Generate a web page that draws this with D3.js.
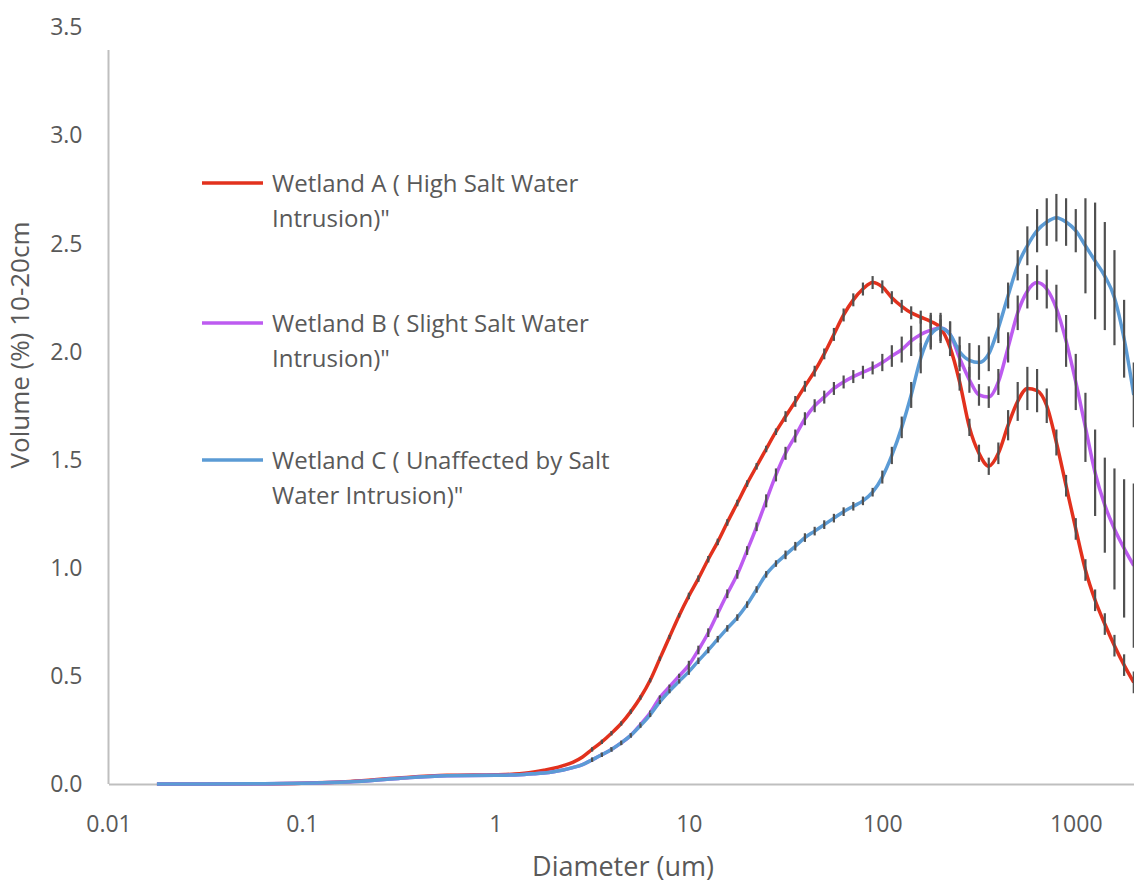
<!DOCTYPE html>
<html lang="en">
<head>
  <meta charset="UTF-8">
  <title>Particle size distribution</title>
  <script src="https://cdn.jsdelivr.net/npm/d3@7/dist/d3.min.js"></script>
  <style>
    body { margin: 0; background: #fff; }
    svg { display: block; font-family: "Open Sans", sans-serif; }
  </style>
</head>
<body>
<div id="chart"></div>
<script>
  // size classes (um)
  const diameters = [0.0178, 0.0316, 0.0562, 0.1, 0.178, 0.316, 0.562,
    1.0, 1.12, 1.26, 1.41, 1.58, 1.78, 2.0, 2.24, 2.51, 2.82, 3.16, 3.55, 3.98, 4.47, 5.01, 5.62, 6.31, 7.08, 7.94, 8.91,
    10, 11.2, 12.6, 14.1, 15.8, 17.8, 20, 22.4, 25.1, 28.2, 31.6, 35.5, 39.8, 44.7, 50.1, 56.2, 63.1, 70.8, 79.4, 89.1,
    100, 112, 126, 141, 158, 178, 200, 224, 251, 282, 316, 355, 398, 447, 501, 562, 631, 708, 794, 891,
    1000, 1122, 1259, 1413, 1585, 1778, 1995];

  const wetlandA = [0, 0, 0.001, 0.004, 0.012, 0.028, 0.040,
    0.043, 0.044, 0.046, 0.05, 0.056, 0.064, 0.073, 0.085, 0.10, 0.125, 0.16, 0.195, 0.235, 0.28, 0.335, 0.40, 0.48, 0.58, 0.68, 0.78,
    0.87, 0.95, 1.04, 1.12, 1.21, 1.30, 1.39, 1.47, 1.55, 1.63, 1.70, 1.77, 1.84, 1.91, 1.99, 2.08, 2.17, 2.24, 2.29, 2.32,
    2.30, 2.25, 2.21, 2.18, 2.16, 2.14, 2.11, 2.02, 1.86, 1.65, 1.53, 1.47, 1.53, 1.66, 1.77, 1.83, 1.82, 1.75, 1.58, 1.38,
    1.18, 0.99, 0.85, 0.74, 0.64, 0.55, 0.47];
  const wetlandB = [0, 0, 0.001, 0.003, 0.010, 0.026, 0.038,
    0.041, 0.041, 0.042, 0.044, 0.047, 0.051, 0.057, 0.065, 0.076, 0.09, 0.112, 0.135, 0.16, 0.19, 0.225, 0.275, 0.33, 0.40, 0.45, 0.50,
    0.55, 0.62, 0.70, 0.79, 0.88, 0.97, 1.08, 1.19, 1.31, 1.43, 1.53, 1.61, 1.69, 1.75, 1.79, 1.83, 1.86, 1.885, 1.905, 1.925,
    1.95, 1.98, 2.01, 2.05, 2.08, 2.10, 2.11, 2.08, 1.97, 1.87, 1.80, 1.79, 1.86, 2.02, 2.18, 2.28, 2.32, 2.29, 2.20, 2.05,
    1.86, 1.65, 1.44, 1.29, 1.18, 1.09, 1.01];
  const wetlandC = [0, 0, 0.001, 0.003, 0.010, 0.026, 0.038,
    0.041, 0.041, 0.042, 0.044, 0.047, 0.051, 0.057, 0.065, 0.076, 0.09, 0.112, 0.135, 0.16, 0.19, 0.225, 0.27, 0.32, 0.38, 0.43, 0.475,
    0.52, 0.57, 0.62, 0.67, 0.72, 0.77, 0.83, 0.90, 0.97, 1.02, 1.06, 1.10, 1.14, 1.17, 1.20, 1.23, 1.26, 1.285, 1.31, 1.35,
    1.42, 1.52, 1.65, 1.80, 1.97, 2.08, 2.11, 2.08, 2.00, 1.96, 1.95, 1.99, 2.11, 2.26, 2.40, 2.49, 2.56, 2.60, 2.62, 2.60,
    2.56, 2.49, 2.42, 2.35, 2.25, 2.06, 1.80];

  // +/- error
  const errA = [0, 0, 0, 0, 0, 0, 0,
    0, 0, 0, 0, 0, 0, 0, 0, 0, 0, 0.01, 0.01, 0.01, 0.01, 0.01, 0.01, 0.01, 0.01, 0.01, 0.01,
    0.015, 0.015, 0.015, 0.015, 0.015, 0.015, 0.015, 0.015, 0.015, 0.015, 0.025, 0.025, 0.025, 0.025, 0.025, 0.03, 0.03, 0.03, 0.03, 0.03,
    0.03, 0.03, 0.03, 0.03, 0.03, 0.03, 0.04, 0.04, 0.04, 0.04, 0.04, 0.04, 0.05, 0.07, 0.09, 0.10, 0.10, 0.08, 0.06, 0.05,
    0.05, 0.05, 0.05, 0.05, 0.05, 0.05, 0.05];
  const errB = [0, 0, 0, 0, 0, 0, 0,
    0, 0, 0, 0, 0, 0, 0, 0, 0, 0, 0.01, 0.01, 0.01, 0.01, 0.01, 0.01, 0.01, 0.01, 0.01, 0.01,
    0.02, 0.02, 0.02, 0.02, 0.02, 0.02, 0.02, 0.02, 0.03, 0.03, 0.03, 0.03, 0.03, 0.03, 0.03, 0.03, 0.03, 0.03, 0.03, 0.03,
    0.04, 0.05, 0.06, 0.07, 0.08, 0.08, 0.07, 0.06, 0.06, 0.06, 0.05, 0.05, 0.06, 0.07, 0.08, 0.08, 0.08, 0.09, 0.11, 0.12,
    0.13, 0.16, 0.20, 0.22, 0.28, 0.32, 0.38];
  const errC = [0, 0, 0, 0, 0, 0, 0,
    0, 0, 0, 0, 0, 0, 0, 0, 0, 0, 0.01, 0.01, 0.01, 0.01, 0.01, 0.01, 0.01, 0.01, 0.01, 0.01,
    0.015, 0.015, 0.015, 0.015, 0.015, 0.015, 0.015, 0.015, 0.015, 0.015, 0.02, 0.02, 0.02, 0.02, 0.02, 0.02, 0.02, 0.02, 0.02, 0.02,
    0.03, 0.04, 0.05, 0.06, 0.07, 0.07, 0.06, 0.06, 0.07, 0.08, 0.08, 0.08, 0.07, 0.06, 0.07, 0.09, 0.10, 0.11, 0.11, 0.11,
    0.10, 0.22, 0.27, 0.25, 0.22, 0.18, 0.15];

  const seriesNames = [
    ['Wetland A ( High Salt Water', 'Intrusion)"'],
    ['Wetland B ( Slight Salt Water', 'Intrusion)"'],
    ['Wetland C ( Unaffected by Salt', 'Water Intrusion)"']
  ];
  const seriesColors = ['#e2311d', '#bd5bf0', '#5b9bd5'];

  const xTicks = [0.01, 0.1, 1, 10, 100, 1000];
  const xTickLabels = ['0.01', '0.1', '1', '10', '100', '1000'];
  const yTicks = [0, 0.5, 1, 1.5, 2, 2.5, 3, 3.5];

  const W = 1134, H = 890;
  const margin = { top: 27.5, right: 0, bottom: 106, left: 108.5 };
  const axisTop = 50; // vertical axis line stops here
  const textColor = '#595959';
  const axisColor = '#bfbfbf';

  const x = d3.scaleLog().domain([0.01, 2000]).range([margin.left, W - margin.right]);
  const y = d3.scaleLinear().domain([0, 3.5]).range([H - margin.bottom, margin.top]);

  const svg = d3.select('#chart').append('svg')
    .attr('width', W)
    .attr('height', H);

  // x axis
  const gx = svg.append('g')
    .attr('transform', `translate(0,${y(0)})`)
    .call(d3.axisBottom(x).tickValues(xTicks).tickSize(0).tickSizeOuter(0)
      .tickFormat((d, i) => xTickLabels[i]));
  gx.select('.domain').attr('stroke', axisColor).attr('stroke-width', 2);
  gx.selectAll('text')
    .attr('y', 48).attr('dy', 0)
    .attr('fill', textColor)
    .style('font-size', '23px')
    .style('font-family', '"Open Sans", sans-serif');

  // y axis
  const gy = svg.append('g')
    .attr('transform', `translate(${margin.left},0)`)
    .call(d3.axisLeft(y).tickValues(yTicks).tickSize(0).tickPadding(26)
      .tickFormat(d3.format('.1f')));
  gy.select('.domain').remove();
  gy.selectAll('text')
    .attr('fill', textColor)
    .style('font-size', '23px')
    .style('font-family', '"Open Sans", sans-serif');
  svg.append('line')
    .attr('x1', margin.left).attr('x2', margin.left)
    .attr('y1', y(0)).attr('y2', axisTop)
    .attr('stroke', axisColor).attr('stroke-width', 2);

  // axis titles
  svg.append('text')
    .attr('x', 623).attr('y', 876)
    .attr('text-anchor', 'middle')
    .attr('fill', textColor)
    .style('font-size', '27px')
    .text('Diameter (um)');
  svg.append('text')
    .attr('transform', `translate(29,345) rotate(-90)`)
    .attr('text-anchor', 'middle')
    .attr('fill', textColor)
    .style('font-size', '26px')
    .text('Volume (%)  10-20cm');

  // series
  const allValues = [wetlandA, wetlandB, wetlandC];
  const allErrors = [errA, errB, errC];
  const line = d3.line()
    .x(d => x(d.d))
    .y(d => y(d.v))
    .curve(d3.curveMonotoneX);

  const plot = svg.append('g');
  allValues.forEach((vals, si) => {
    const pts = diameters.map((d, i) => ({ d, v: vals[i], e: allErrors[si][i] }));
    plot.append('path')
      .datum(pts)
      .attr('fill', 'none')
      .attr('stroke', seriesColors[si])
      .attr('stroke-width', 3.5)
      .attr('stroke-linejoin', 'round')
      .attr('d', line);
    plot.append('g')
      .selectAll('line')
      .data(pts.filter(p => p.e > 0))
      .join('line')
      .attr('x1', p => x(p.d)).attr('x2', p => x(p.d))
      .attr('y1', p => y(p.v - p.e)).attr('y2', p => y(p.v + p.e))
      .attr('stroke', '#505050')
      .attr('stroke-width', 2.2);
  });

  // legend
  const legendY = [183, 323, 460];
  const legend = svg.append('g');
  seriesNames.forEach((lines, i) => {
    const g = legend.append('g').attr('transform', `translate(202,${legendY[i]})`);
    g.append('line')
      .attr('x1', 0).attr('x2', 61)
      .attr('stroke', seriesColors[i]).attr('stroke-width', 3.5);
    const t = g.append('text')
      .attr('fill', textColor)
      .style('font-size', '24px');
    lines.forEach((s, j) => {
      t.append('tspan').attr('x', 70).attr('y', 9 + j * 35).text(s);
    });
  });
</script>
</body>
</html>
